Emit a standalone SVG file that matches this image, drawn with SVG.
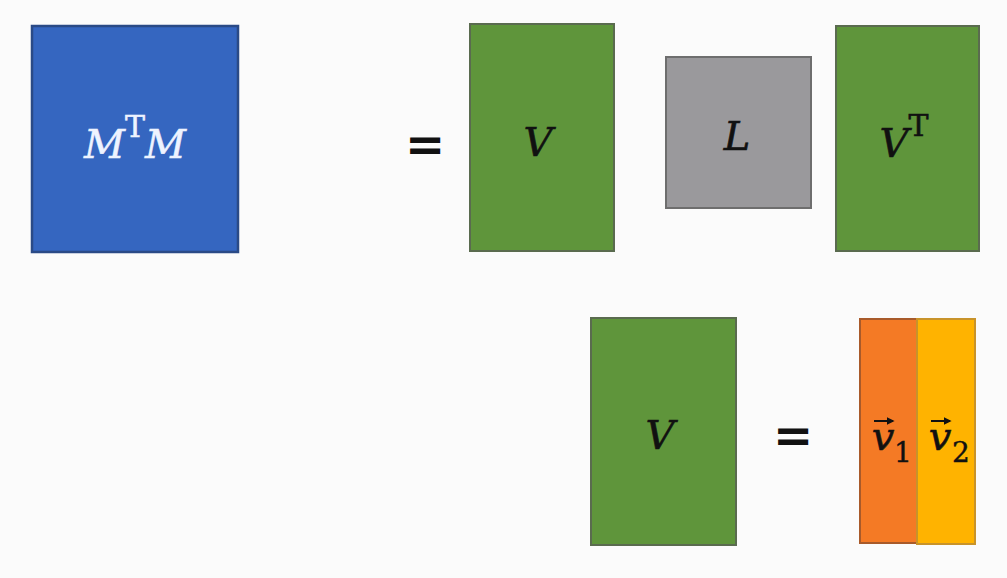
<svg xmlns="http://www.w3.org/2000/svg" width="1007" height="578" viewBox="0 0 1007 578">
<style>
.math{font-family:"DejaVu Serif","Liberation Serif",serif;font-style:italic;font-size:40px;fill:#111;stroke:#111;stroke-width:0.6;}
.sub{font-family:"DejaVu Serif","Liberation Serif",serif;font-style:normal;font-size:28px;fill:#111;stroke:#111;stroke-width:0.4;}
.eq{font-family:"DejaVu Sans","Liberation Sans",sans-serif;font-weight:bold;font-size:48px;fill:#111;}
.green{fill:#5f953b;stroke:#5a6b4f;stroke-width:2;}
.vec{fill:none;stroke:#111;stroke-width:2;}
</style>
<defs>
<marker id="ah" viewBox="0 0 10 10" refX="8" refY="5" markerWidth="4" markerHeight="4" orient="auto"><path d="M0,0 L10,5 L0,10 z" fill="#111"/></marker>
</defs>
<rect width="1007" height="578" fill="#fbfbfb"/>
<g id="mtm">
<rect x="32" y="26" width="206" height="226" fill="#3566c0" stroke="#2a4a86" stroke-width="2.5"/>
<text x="135" y="158" text-anchor="middle" style="font-family:'DejaVu Serif',serif;font-size:40px;fill:#eef3ff;stroke:#eef3ff;stroke-width:0.5"><tspan font-style="italic">M</tspan><tspan font-size="30" dy="-21">T</tspan><tspan font-style="italic" dy="21">M</tspan></text>
</g>
<g id="eq1"><text class="eq" x="425" y="161" text-anchor="middle">=</text></g>
<g id="v-top">
<rect class="green" x="470" y="24" width="144" height="227"/>
<text class="math" x="538" y="156" text-anchor="middle">V</text>
</g>
<g id="l">
<rect x="666" y="57" width="145" height="151" fill="#9a999c" stroke="#6e6e6e" stroke-width="2"/>
<text class="math" x="737" y="150" text-anchor="middle">L</text>
</g>
<g id="vt">
<rect class="green" x="836" y="26" width="143" height="225"/>
<text x="904" y="157" text-anchor="middle" style="font-family:'DejaVu Serif',serif;font-size:40px;fill:#111;stroke:#111;stroke-width:0.6"><tspan font-style="italic">V</tspan><tspan font-size="30" dy="-21">T</tspan></text>
</g>
<g id="v-bottom">
<rect class="green" x="591" y="318" width="145" height="227"/>
<text class="math" x="660" y="449" text-anchor="middle">V</text>
</g>
<g id="eq2"><text class="eq" x="793" y="452" text-anchor="middle">=</text></g>
<g id="v1">
<rect x="860" y="319" width="57" height="224" fill="#f47a25" stroke="#a85a2a" stroke-width="2"/>
<text class="math" x="883" y="450" text-anchor="middle">v</text>
<path class="vec" d="M874,421 L893,421" marker-end="url(#ah)"/>
<text class="sub" x="903" y="462" text-anchor="middle">1</text>
</g>
<g id="v2">
<rect x="917" y="319" width="58" height="225" fill="#ffb300" stroke="#c8932a" stroke-width="2"/>
<text class="math" x="940" y="450" text-anchor="middle">v</text>
<path class="vec" d="M931,421 L950,421" marker-end="url(#ah)"/>
<text class="sub" x="961" y="462" text-anchor="middle">2</text>
</g>
<g id="connectors"/>
</svg>
